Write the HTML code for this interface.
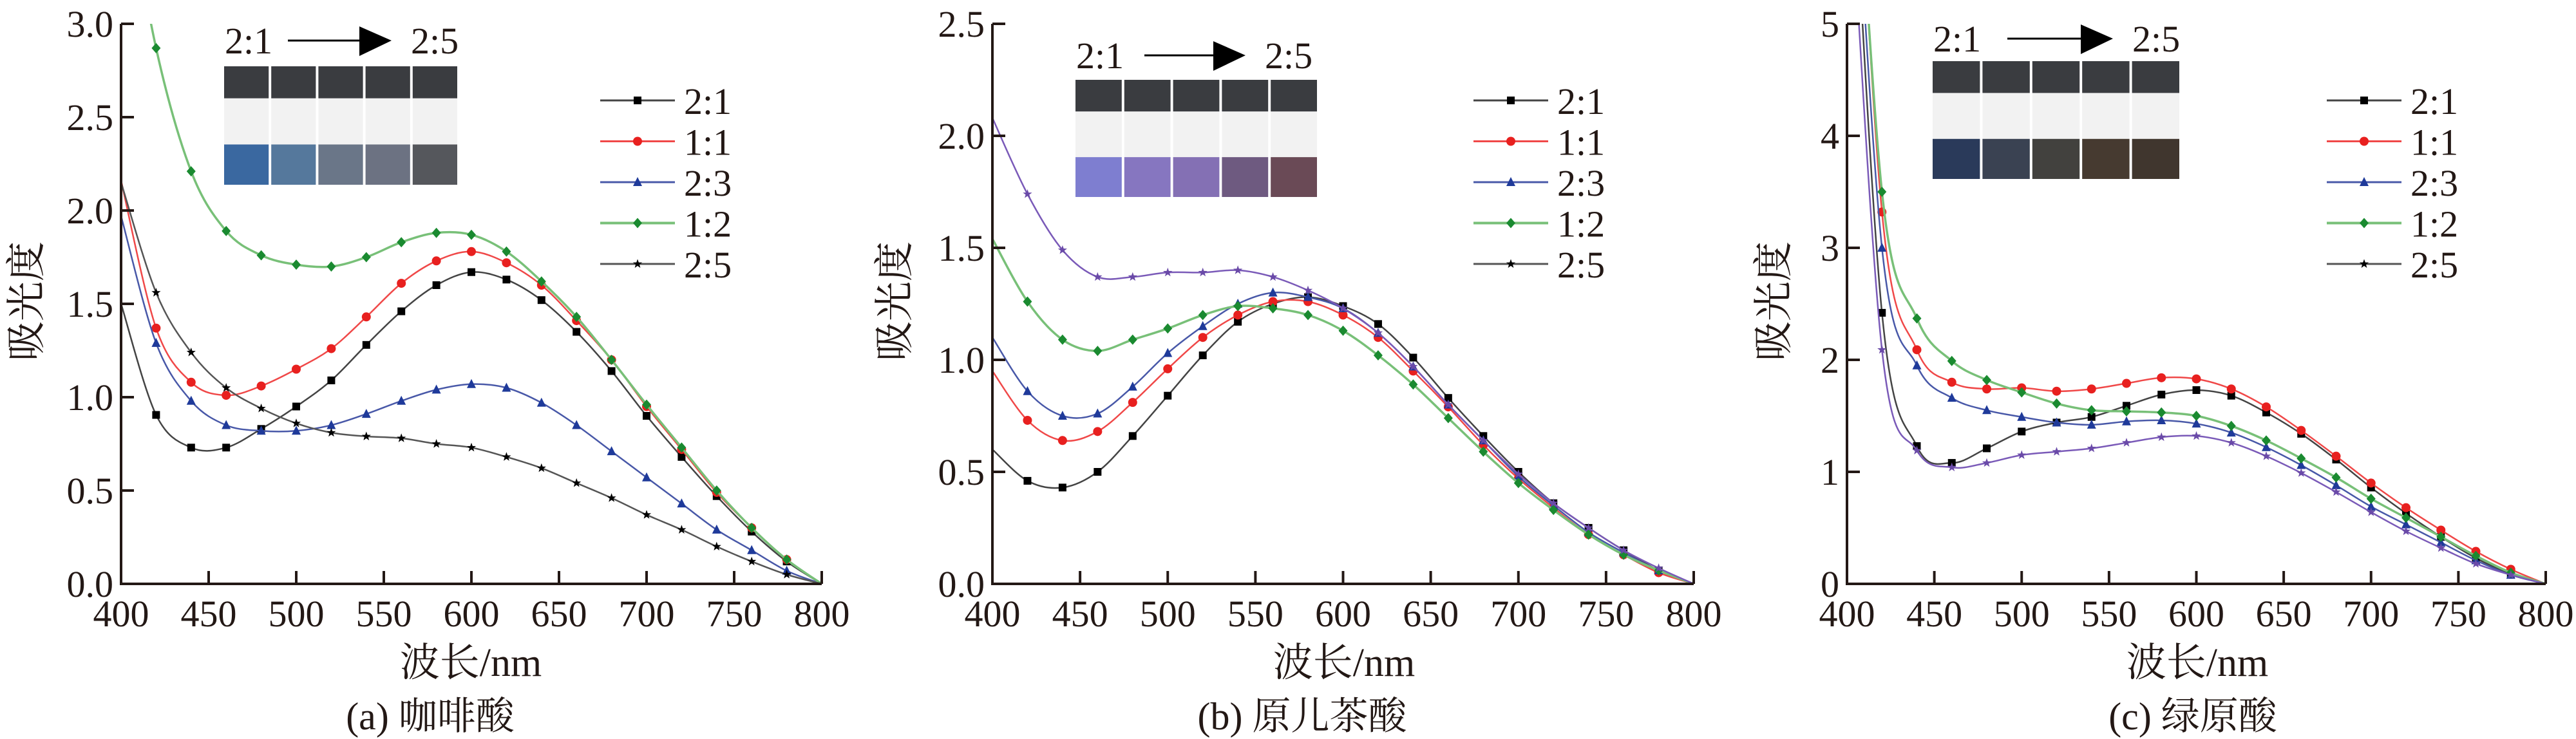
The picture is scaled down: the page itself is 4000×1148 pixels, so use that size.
<!DOCTYPE html>
<html><head><meta charset="utf-8"><style>
body{margin:0;background:#fff}
svg{display:block}
svg text{font-family:"Liberation Serif","Times New Roman","DejaVu Serif","Noto Serif CJK SC",serif !important}
svg text.cj{font-family:"Liberation Serif","Noto Serif CJK SC","Noto Sans CJK SC",serif !important}
</style></head><body>
<svg id="s" width="4000" height="1148" xmlns="http://www.w3.org/2000/svg"></svg>
<script>
const S=document.getElementById('s');
const FT='style="font-family:\'Liberation Serif\',\'DejaVu Serif\',serif" fill="#231815"';
const FC='class="cj" style="font-family:\'Liberation Serif\',\'Noto Serif CJK SC\',\'Noto Sans CJK SC\',serif" fill="#231815"';
let h='';
const X=[400,420,440,460,480,500,520,540,560,580,600,620,640,660,680,700,720,740,760,780,800];
const COL={k:['#000','#444'],r:['#e8201f','#f04848'],b:['#1f3a9a','#4858a8'],g:['#1a8a30','#78c078'],s:['#000','#555'],p:['#6a4aa8','#7a5ab8']};
function mk(type,x,y,c){
 if(type=='k')return `<rect x="${x-6}" y="${y-6}" width="12" height="12" fill="${c}"/>`;
 if(type=='r')return `<circle cx="${x}" cy="${y}" r="7" fill="${c}"/>`;
 if(type=='b')return `<polygon points="${x},${y-8} ${x+7},${y+6} ${x-7},${y+6}" fill="${c}"/>`;
 if(type=='g')return `<polygon points="${x},${y-8} ${x+7},${y} ${x},${y+8} ${x-7},${y}" fill="${c}"/>`;
 let p=[];for(let i=0;i<10;i++){let a=-Math.PI/2+i*Math.PI/5,r=i%2?3:7.5;p.push((x+r*Math.cos(a)).toFixed(1)+','+(y+r*Math.sin(a)).toFixed(1));}
 return `<polygon points="${p.join(' ')}" fill="${c}"/>`;
}
function path(pts){
 let d='M'+pts[0][0]+','+pts[0][1];
 for(let i=0;i<pts.length-1;i++){
  let p0=pts[Math.max(i-1,0)],p1=pts[i],p2=pts[i+1],p3=pts[Math.min(i+2,pts.length-1)];
  let c1=[p1[0]+(p2[0]-p0[0])/6,p1[1]+(p2[1]-p0[1])/6],c2=[p2[0]-(p3[0]-p1[0])/6,p2[1]-(p3[1]-p1[1])/6];
  d+=`C${c1[0].toFixed(1)},${c1[1].toFixed(1)} ${c2[0].toFixed(1)},${c2[1].toFixed(1)} ${p2[0].toFixed(1)},${p2[1].toFixed(1)}`;
 }return d;
}
function panel(o){
 const {L,R,T,B,ymax,yt,dec,series,id}=o;
 const sx=v=>L+(v-400)/400*(R-L), sy=v=>B-v/ymax*(B-T);
 h+=`<clipPath id="${id}"><rect x="${L}" y="${T}" width="${R-L}" height="${B-T}"/></clipPath>`;
 const ph=o.photo;
 let vw=(ph.x1-ph.x0)/5;
 for(let i=0;i<5;i++){
  let x=ph.x0+i*vw+1;
  h+=`<rect x="${x}" y="${ph.y0}" width="${vw-4}" height="${ph.y1-ph.y0}" fill="#f2f2f2"/>`;
  h+=`<rect x="${x}" y="${ph.y0}" width="${vw-4}" height="${(ph.y1-ph.y0)*0.27}" fill="#3a3c40"/>`;
  h+=`<rect x="${x}" y="${ph.y0+(ph.y1-ph.y0)*0.66}" width="${vw-4}" height="${(ph.y1-ph.y0)*0.34}" fill="${ph.c[i]}"/>`;
 }
 h+=`<text ${FT} x="${ph.x0+2}" y="${ph.ty}" font-size="58">2:1</text>`;
 h+=`<line x1="${ph.a0}" y1="${ph.ty-20}" x2="${ph.a1-48}" y2="${ph.ty-20}" stroke="#000" stroke-width="3"/>`;
 h+=`<polygon points="${ph.a1-50},${ph.ty-42} ${ph.a1},${ph.ty-20} ${ph.a1-50},${ph.ty+4}" fill="#000"/>`;
 h+=`<text ${FT} x="${ph.a1+30}" y="${ph.ty}" font-size="58">2:5</text>`;
 for(const s of series){
  let pts=s.v.map((v,i)=>[sx(X[i]),sy(v)]);
  h+=`<path d="${path(pts)}" fill="none" stroke="${COL[s.t][1]}" stroke-width="${s.t=='g'?3.5:2.5}" clip-path="url(#${id})"/>`;
  s.v.forEach((v,i)=>{if(X[i]>=420&&X[i]<=780&&v<=ymax)h+=mk(s.t,sx(X[i]),sy(v),COL[s.t][0]);});
 }
 h+=`<path d="M${L},${T} V${B} H${R}" fill="none" stroke="#231815" stroke-width="4"/>`;
 for(let v=400;v<=800;v+=50){let x=sx(v);h+=`<line x1="${x}" y1="${B}" x2="${x}" y2="${B-20}" stroke="#231815" stroke-width="4"/><text ${FT} x="${x}" y="${B+66}" font-size="58" text-anchor="middle">${v}</text>`;}
 for(let v=0;v<=ymax+1e-9;v+=yt){let y=sy(v);h+=`<line x1="${L}" y1="${y}" x2="${L+20}" y2="${y}" stroke="#231815" stroke-width="4"/><text ${FT} x="${L-12}" y="${y+20}" font-size="58" text-anchor="end">${v.toFixed(dec)}</text>`;}
 const labs=['2:1','1:1','2:3','1:2','2:5'];const lt=['k','r','b','g',o.last];
 for(let i=0;i<5;i++){let y=156+i*63.5,t=lt[i];
  h+=`<line x1="${o.lg}" y1="${y}" x2="${o.lg+116}" y2="${y}" stroke="${t=='p'?'#555':COL[t][1]}" stroke-width="${t=='g'?4:3}"/>`+mk(t=='p'?'s':t,o.lg+58,y,t=='p'?'#000':COL[t][0]);
  h+=`<text ${FT} x="${o.lg+130}" y="${y+21}" font-size="58">${labs[i]}</text>`;}
 h+=`<text ${FC} transform="translate(${o.yl},468) rotate(-90)" font-size="62" text-anchor="middle">吸光度</text>`;
 h+=`<text ${FC} x="${o.xt}" y="1050" font-size="62" text-anchor="middle">波长/nm</text>`;
 h+=`<text ${FC} x="${o.ct}" y="1133" font-size="60" text-anchor="middle">${o.cap}</text>`;
}
panel({id:'ca',L:188,R:1276,T:37,B:907,ymax:3,yt:0.5,dec:1,lg:932,last:'s',yl:62,xt:731,ct:668,cap:'(a) 咖啡酸',
 photo:{x0:347,x1:713,y0:103,y1:287,ty:83,a0:447,a1:608,c:['#3a68a0','#55789c','#6a7688','#6c7282','#55575c']},
 series:[
 {t:'k',v:[1.5,0.905,0.73,0.73,0.83,0.95,1.09,1.28,1.46,1.60,1.67,1.63,1.52,1.35,1.14,0.90,0.68,0.47,0.28,0.12,0]},
 {t:'r',v:[2.16,1.37,1.08,1.01,1.06,1.15,1.26,1.43,1.61,1.73,1.78,1.72,1.60,1.41,1.20,0.95,0.72,0.49,0.30,0.13,0]},
 {t:'b',v:[1.97,1.29,0.98,0.85,0.82,0.82,0.85,0.91,0.98,1.04,1.07,1.05,0.97,0.85,0.71,0.57,0.43,0.29,0.18,0.07,0]},
 {t:'g',v:[3.9,2.87,2.21,1.89,1.76,1.71,1.70,1.75,1.83,1.88,1.87,1.78,1.62,1.43,1.20,0.96,0.73,0.50,0.30,0.13,0]},
 {t:'s',v:[2.15,1.56,1.24,1.05,0.94,0.86,0.81,0.79,0.78,0.75,0.73,0.68,0.62,0.54,0.46,0.37,0.29,0.20,0.12,0.05,0]}]});
panel({id:'cb',L:1541,R:2630,T:37,B:907,ymax:2.5,yt:0.5,dec:1,lg:2288,last:'p',yl:1410,xt:2087,ct:2022,cap:'(b) 原儿茶酸',
 photo:{x0:1669,x1:2048,y0:124,y1:306,ty:106,a0:1777,a1:1934,c:['#7e7ed0','#8676c0','#8470b4','#6e5a80','#6a4a56']},
 series:[
 {t:'k',v:[0.60,0.46,0.43,0.50,0.66,0.84,1.02,1.17,1.25,1.28,1.24,1.16,1.01,0.83,0.66,0.50,0.36,0.25,0.15,0.06,0]},
 {t:'r',v:[0.95,0.73,0.64,0.68,0.81,0.96,1.10,1.20,1.26,1.26,1.20,1.10,0.95,0.79,0.62,0.47,0.34,0.22,0.13,0.05,0]},
 {t:'b',v:[1.10,0.86,0.75,0.76,0.88,1.03,1.15,1.25,1.30,1.28,1.23,1.12,0.97,0.80,0.64,0.48,0.35,0.23,0.14,0.06,0]},
 {t:'g',v:[1.54,1.26,1.09,1.04,1.09,1.14,1.20,1.24,1.23,1.20,1.13,1.02,0.89,0.74,0.59,0.45,0.33,0.22,0.13,0.06,0]},
 {t:'p',v:[2.08,1.74,1.49,1.37,1.37,1.39,1.39,1.40,1.37,1.31,1.23,1.12,0.97,0.80,0.64,0.49,0.36,0.25,0.15,0.07,0]}]});
panel({id:'cc',L:2868,R:3953,T:37,B:907,ymax:5,yt:1,dec:0,lg:3613,last:'p',yl:2775,xt:3412,ct:3405,cap:'(c) 绿原酸',
 photo:{x0:3000,x1:3387,y0:95,y1:278,ty:80,a0:3117,a1:3281,c:['#2a3a5a','#3a4252','#42413e','#463a30','#40362e']},
 series:[
 {t:'k',v:[7.5,2.42,1.23,1.08,1.21,1.36,1.44,1.49,1.59,1.69,1.73,1.68,1.53,1.34,1.11,0.86,0.63,0.42,0.23,0.09,0]},
 {t:'r',v:[8.5,3.32,2.09,1.80,1.74,1.75,1.72,1.74,1.79,1.84,1.83,1.74,1.58,1.37,1.14,0.90,0.68,0.48,0.29,0.13,0]},
 {t:'b',v:[7.8,3.0,1.95,1.66,1.55,1.49,1.44,1.42,1.45,1.46,1.43,1.35,1.22,1.06,0.88,0.69,0.53,0.37,0.21,0.08,0]},
 {t:'g',v:[8.2,3.50,2.37,1.99,1.82,1.71,1.61,1.55,1.54,1.53,1.50,1.41,1.28,1.12,0.95,0.76,0.59,0.42,0.25,0.10,0]},
 {t:'p',v:[6.8,2.09,1.19,1.04,1.08,1.15,1.18,1.21,1.26,1.31,1.32,1.26,1.14,0.99,0.82,0.64,0.47,0.32,0.18,0.08,0]}]});
S.innerHTML=h;
</script>
</body></html>
